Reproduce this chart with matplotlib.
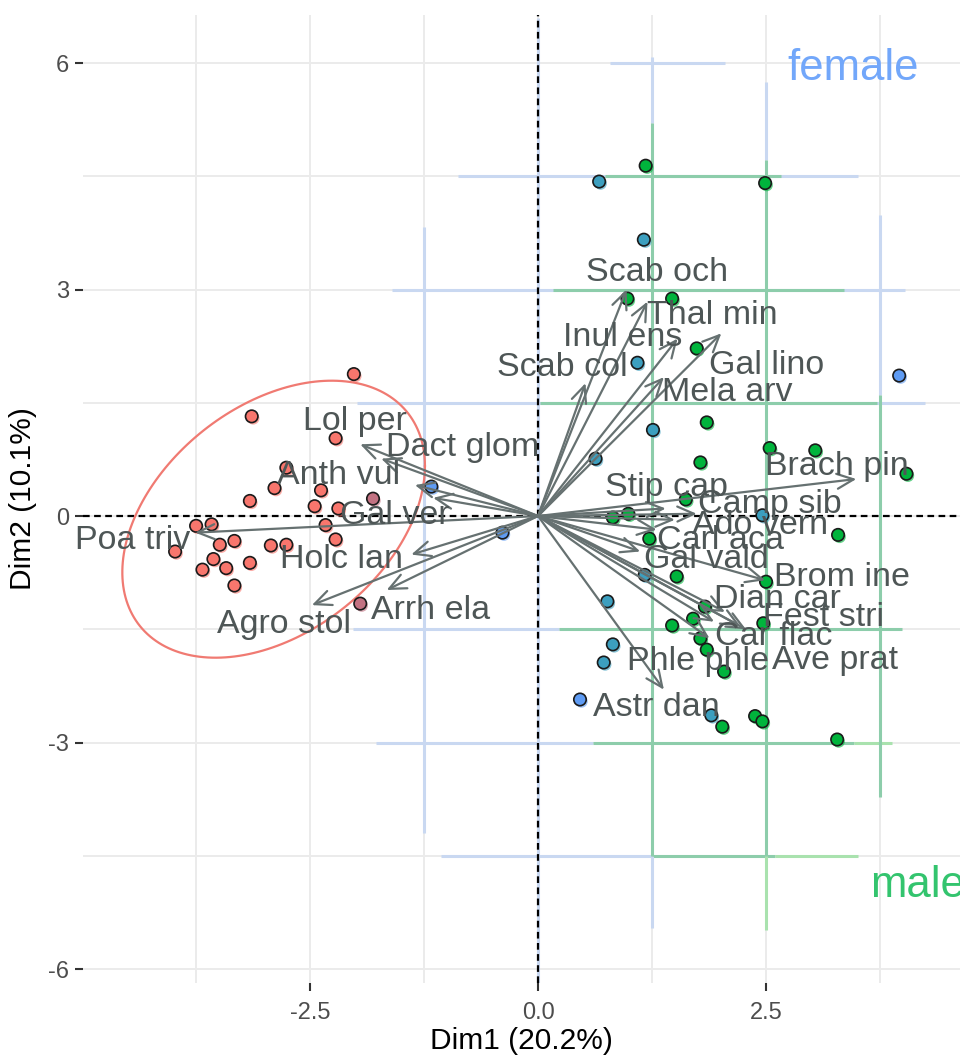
import numpy as np
import matplotlib
matplotlib.use("Agg")
import matplotlib.pyplot as plt
from matplotlib.transforms import offset_copy

plt.rcParams['font.family'] = ['Liberation Sans', 'DejaVu Sans']

# ---------------- data ----------------
ind_x = [-2.02, -3.14, -2.22, -2.76, -2.89, -2.38, -3.16, -2.45, -2.19, -1.81,
         -3.75, -3.58, -2.33, -2.22, -3.98, -3.49, -3.33, -2.93, -2.76, -3.56,
         -3.68, -3.42, -3.16, -3.33, -1.95,
         -1.17, -0.39, 3.96, 0.46,
         0.67, 1.16, 1.09, 1.26, 0.63, 2.46, 1.17, 0.76, 0.82, 0.72, 1.90,
         1.18, 2.49, 0.98, 1.47, 1.74, 1.85, 1.78, 2.54, 3.04, 4.04,
         1.62, 0.82, 0.99, 3.29, 1.22, 1.52, 2.50, 1.83, 1.70, 1.47,
         2.47, 1.78, 1.85, 2.04, 2.02, 2.38, 2.46, 3.28]
ind_y = [1.88, 1.32, 1.03, 0.64, 0.37, 0.34, 0.20, 0.13, 0.10, 0.23,
         -0.13, -0.11, -0.12, -0.31, -0.47, -0.38, -0.33, -0.39, -0.38, -0.57,
         -0.71, -0.69, -0.62, -0.92, -1.16,
         0.39, -0.22, 1.86, -2.43,
         4.43, 3.66, 2.03, 1.14, 0.76, 0.01, -0.78, -1.13, -1.70, -1.94, -2.64,
         4.64, 4.41, 2.88, 2.88, 2.22, 1.24, 0.71, 0.90, 0.87, 0.56,
         0.22, -0.02, 0.03, -0.25, -0.30, -0.80, -0.87, -1.20, -1.36, -1.45,
         -1.42, -1.62, -1.77, -2.06, -2.79, -2.65, -2.72, -2.96]
ind_group = (['r'] * 9 + ['m'] + ['r'] * 14 + ['m']
             + ['b'] * 4 + ['t'] * 11 + ['g'] * 28)

var_names = ["Lol per", "Dact glom", "Anth vul", "Gal ver", "Poa triv", "Holc lan",
             "Agro stol", "Arrh ela",
             "Scab och", "Thal min", "Inul ens", "Gal lino", "Scab col", "Mela arv",
             "Brach pin", "Stip cap", "Camp sib", "Ado vern", "Carl aca", "Gal vald",
             "Brom ine", "Dian car", "Fest stri", "Car flac", "Phle phle", "Ave prat",
             "Astr dan"]
var_x = [-1.95, -1.72, -1.35, -1.15, -3.76, -1.39, -2.48, -1.66,
         0.97, 1.20, 1.53, 2.01, 0.52, 1.38,
         3.49, 1.40, 1.74, 1.50, 1.30, 1.12, 2.49, 2.05, 2.28, 1.93, 1.88, 2.22,
         1.38]
var_y = [0.95, 0.76, 0.41, 0.24, -0.22, -0.51, -1.18, -0.98,
         3.00, 2.84, 2.35, 2.42, 1.76, 1.84,
         0.49, 0.10, 0.03, -0.05, -0.18, -0.47, -0.85, -1.27, -1.50, -1.40, -1.62,
         -1.46, -2.30]

# label anchor positions (repelled text layout, data units)
lab_x = [-2.01, -0.83, -2.19, -1.57, -4.45, -2.15, -2.79, -1.18,
         1.30, 1.91, 0.93, 2.51, 0.27, 2.08,
         3.28, 1.41, 2.54, 2.43, 2.00, 1.85, 3.33, 2.63, 3.13, 2.58, 1.75, 3.26,
         1.30]
lab_y = [1.25, 0.91, 0.54, 0.01, -0.33, -0.58, -1.44, -1.25,
         3.23, 2.66, 2.36, 2.00, 1.97, 1.63,
         0.65, 0.38, 0.15, -0.12, -0.32, -0.58, -0.81, -1.11, -1.34, -1.60, -1.93,
         -1.91, -2.53]

group_labels = ["female", "male"]

# pale overlay segments: (fixed coord, start, end)
blue_h = [(6.0, 0.79, 2.05), (4.5, -0.88, 3.51), (3.0, -1.60, 4.02), (1.5, -1.98, 4.24),
          (-1.5, -2.03, 0.23), (-3.0, -1.78, 0.60), (-4.5, -1.06, 1.25)]
green_h = [(4.5, 0.73, 2.66), (3.0, 0.16, 3.36), (1.5, 0.02, 3.72), (-1.5, 0.23, 3.99),
           (-3.0, 0.60, 3.46), (-4.5, 1.25, 2.60)]
lgreen_h = [(-3.0, 3.46, 3.88), (-4.5, 2.60, 3.51)]
blue_v = [(-1.25, 3.83, -4.20), (1.25, 6.08, 5.21), (1.25, -4.50, -5.46),
          (2.5, 5.75, 4.72), (3.75, 3.99, 1.60), (0.0, 6.6, -6.2)]
green_v = [(1.25, 5.21, -4.50), (2.5, 4.72, -4.50), (3.75, 1.60, -3.72)]
lgreen_v = [(2.5, -4.50, -5.48)]

# ---------------- figure ----------------
W, H = 960, 1058
fig = plt.figure(figsize=(W / 100, H / 100), dpi=100)
ax = fig.add_axes([83 / W, 1 - 983 / H, 1 - 83 / W, (983 - 15) / H])
ax.set_xlim(-4.99, 4.627)
ax.set_ylim(-6.185, 6.636)
for s in ax.spines.values():
    s.set_visible(False)

grid_c = "#EBEBEB"
for v in [-3.75, -2.5, -1.25, 0, 1.25, 2.5, 3.75]:
    ax.axvline(v, color=grid_c, lw=1.4, zorder=0.5)
for v in [-6, -4.5, -3, -1.5, 0, 1.5, 3, 4.5, 6]:
    ax.axhline(v, color=grid_c, lw=1.4, zorder=0.5)

blue_c, green_c, lgreen_c = "#C9D8F1", "#8DCDAB", "#A9E2AE"
for segs, c in [(blue_h, blue_c), (green_h, green_c), (lgreen_h, lgreen_c)]:
    for yy, x0, x1 in segs:
        ax.plot([x0, x1], [yy, yy], color=c, lw=2.2, solid_capstyle='butt', zorder=1)
for segs, c in [(blue_v, blue_c), (green_v, green_c), (lgreen_v, lgreen_c)]:
    for xx, y0, y1 in segs:
        ax.plot([xx, xx], [y0, y1], color=c, lw=2.2, solid_capstyle='butt', zorder=1)

ax.axhline(0, color="black", lw=1.6, ls=(0, (3, 2)), zorder=2)
ax.axvline(0, color="black", lw=1.6, ls=(0, (3, 2)), zorder=2)

# ellipse (normal, 95%) for the red group
gx = np.array([x for x, g in zip(ind_x, ind_group) if g in 'rm'])
gy = np.array([y for y, g in zip(ind_y, ind_group) if g in 'rm'])
n = len(gx)
cov = np.cov(np.vstack([gx, gy]))
d2 = n - 1
fq = (d2 / 2) * (0.05 ** (-2 / d2) - 1)
rad = np.sqrt(2 * fq)
t = np.linspace(0, 2 * np.pi, 200)
L = np.linalg.cholesky(cov)
circ = np.vstack([np.cos(t), np.sin(t)])
ell = L @ circ * rad
ax.plot(gx.mean() + ell[0], gy.mean() + ell[1], color="#F07A72", lw=1.6, zorder=3)

# points
cmap = {'r': "#F8766D", 'm': "#C27282", 'b': "#5E9BF3", 't': "#3C9FBF", 'g': "#00B43C"}
cols = [cmap[g] for g in ind_group]
shadow = offset_copy(ax.transData, fig=fig, x=1.5, y=-2.0, units='dots')
ax.scatter(ind_x, ind_y, s=80, c=cols, edgecolors='none', alpha=0.6,
           transform=shadow, zorder=3.4)
ax.scatter(ind_x, ind_y, s=80, c=cols, edgecolors="#1A1A1A", linewidths=1.2, zorder=3.5)

# arrows
arrow_c = "#667171"
for vx, vy in zip(var_x, var_y):
    ax.annotate("", xy=(vx, vy), xytext=(0, 0),
                arrowprops=dict(arrowstyle="->,head_length=0.6,head_width=0.27",
                                color=arrow_c, lw=1.6, shrinkA=0, shrinkB=0,
                                mutation_scale=20),
                zorder=4)

for name, lx, ly in zip(var_names, lab_x, lab_y):
    ax.text(lx, ly, name, ha='center', va='center', fontsize=24.5, color="#4E5656",
            zorder=5, clip_on=False)

ax.text(3.45, 5.93, group_labels[0], ha='center', va='center', fontsize=31.5,
        color="#72A7FA", zorder=5)
ax.text(3.64, -4.9, group_labels[1], ha='left', va='center', fontsize=31.5,
        color="#33C46E", zorder=5, clip_on=False)

ax.set_xticks([-2.5, 0, 2.5])
ax.set_xticklabels(["-2.5", "0.0", "2.5"])
ax.set_yticks([-6, -3, 0, 3, 6])
ax.set_yticklabels(["-6", "-3", "0", "3", "6"])
ax.tick_params(axis='both', length=6, width=1.5, color="#333333", labelsize=17,
               labelcolor="#4D4D4D")
ax.tick_params(axis='x', pad=8)
ax.tick_params(axis='y', pad=4)
ax.set_xlabel("Dim1 (20.2%)", fontsize=21.5, color="black", labelpad=2)
ax.set_ylabel("Dim2 (10.1%)", fontsize=21.5, color="black", labelpad=8)

fig.savefig("out.png", dpi=100)
